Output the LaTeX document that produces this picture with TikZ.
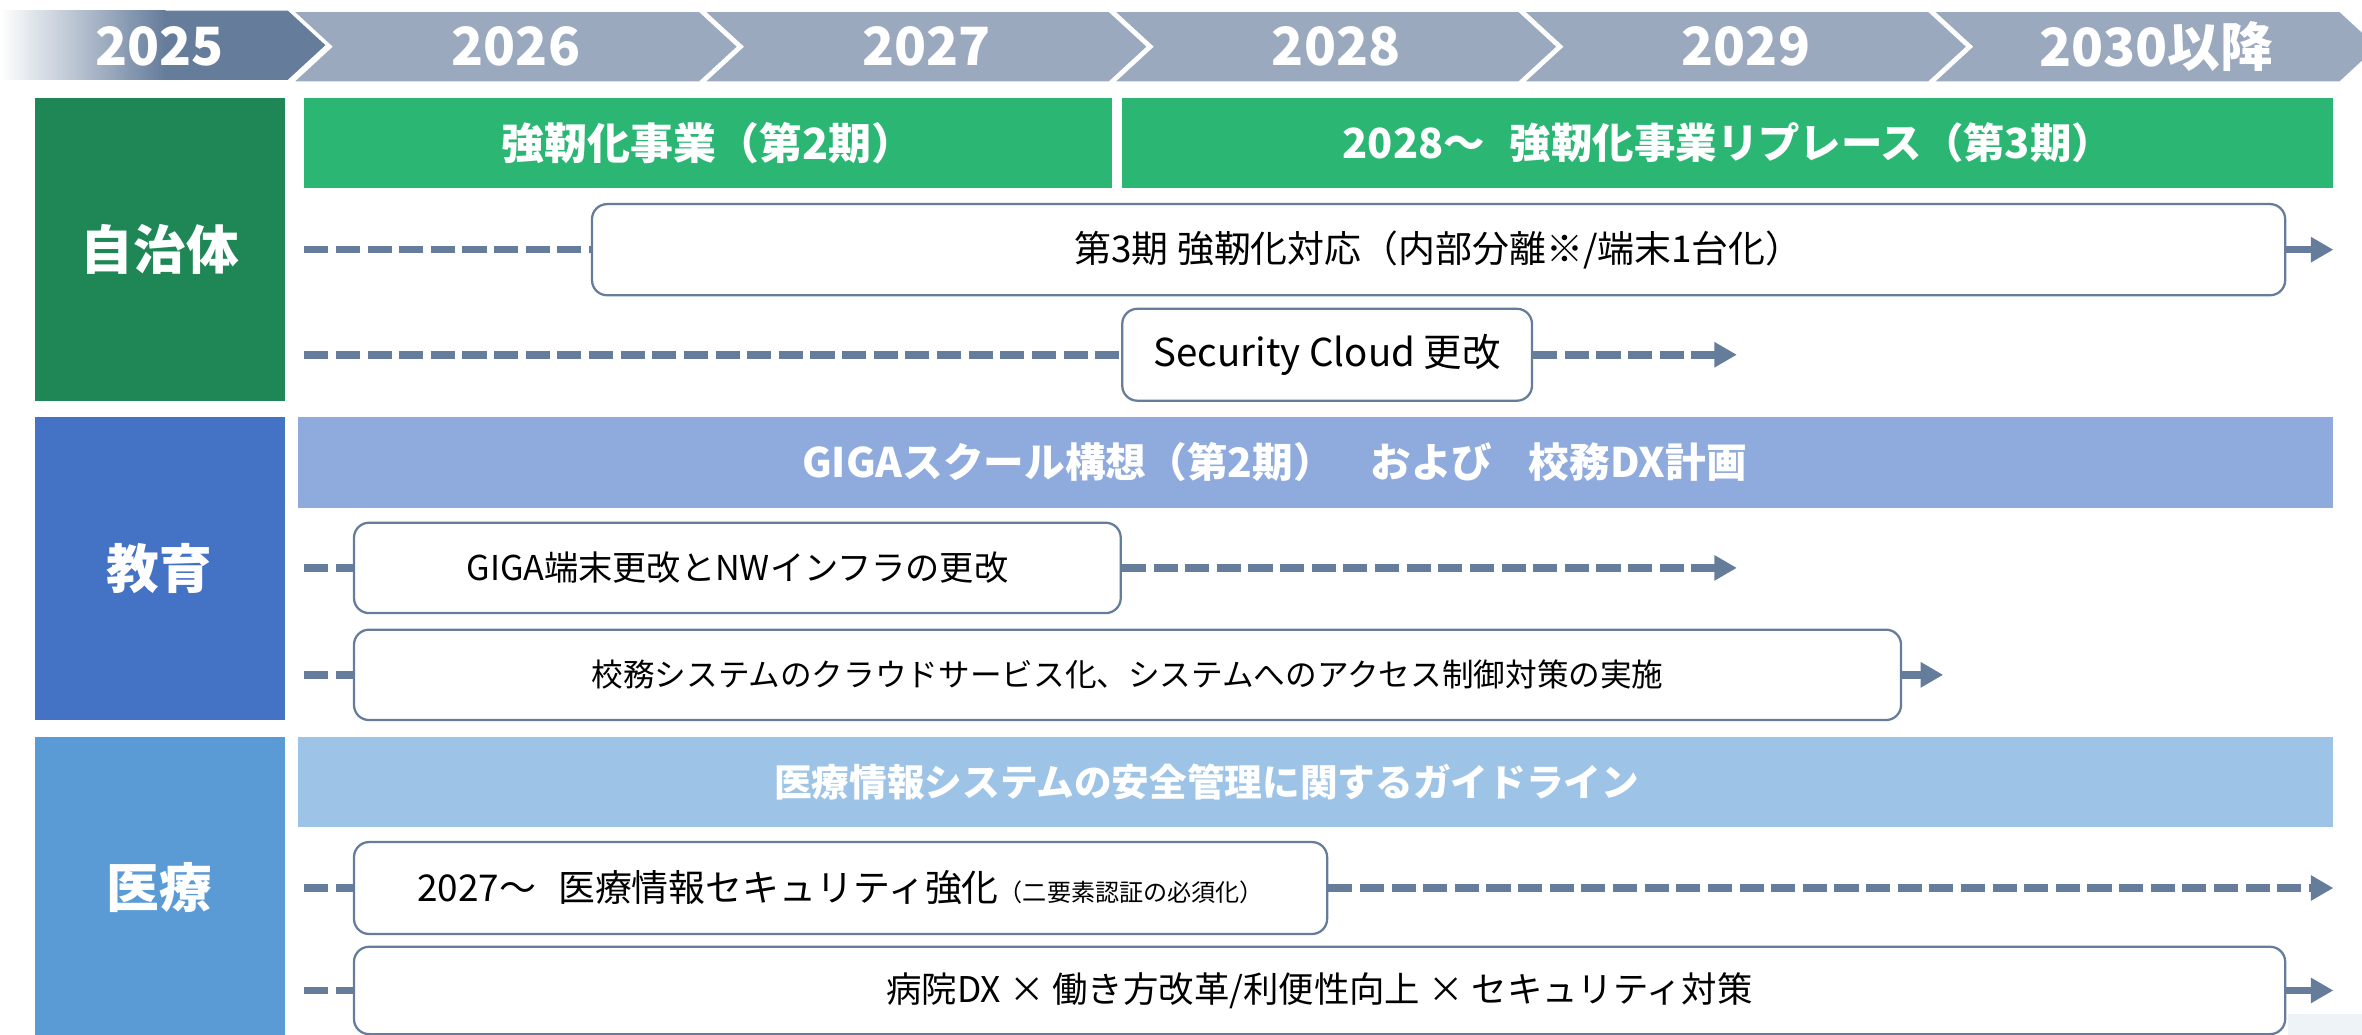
\documentclass[tikz,border=0pt]{standalone}
\usepackage{fontspec}
\setmainfont{Noto Sans CJK JP}
\usetikzlibrary{arrows.meta}
\definecolor{slate}{HTML}{657C9B}
\definecolor{chev}{HTML}{9AA9BE}
\definecolor{dgreen}{HTML}{1E8755}
\definecolor{bgreen}{HTML}{2BB673}
\definecolor{eblue}{HTML}{4472C4}
\definecolor{ebar}{HTML}{8FAADC}
\definecolor{mblue}{HTML}{5B9BD5}
\definecolor{mbar}{HTML}{9DC3E6}
\definecolor{faint}{HTML}{EEF3F8}
\newcommand{\fsz}[1]{\fontsize{#1}{#1}\selectfont}
\tikzset{
  lab/.style={fill=#1, text=white, inner sep=0pt, font=\fsz{35}\bfseries},
  bar/.style={fill=#1, text=white, inner sep=0pt, font=\fsz{27}\bfseries},
  bartext/.style={text=white, inner sep=0pt, font=\fsz{27}\bfseries},
  item/.style={draw=slate, line width=1.5pt, rounded corners=10pt, fill=white, inner sep=0pt, text=black, font=\fsz{23}},
  dashline/.style={draw=slate, line width=5pt, dash pattern=on 16pt off 5pt},
  solidarrow/.style={draw=slate, line width=5pt, -{Triangle[length=15pt,width=16pt]}},
  dasharrow/.style={dashline, -{Triangle[length=15pt,width=16pt]}},
  year/.style={text=white, inner sep=0pt, font=\fsz{35}\bfseries},
}
\begin{document}
\begin{tikzpicture}[x=1pt,y=-1pt]
\useasboundingbox (0,0) rectangle (1568,687);
\clip (0,0) rectangle (1568,687);
% header chevrons
\shade[left color=white, right color=slate] (0,7) rectangle (110,53);
\fill[slate] (109,7) -- (191,7) -- (216,30) -- (191,53) -- (109,53) -- cycle;
\node[year] (y2025) at (106,31) {2025};
\foreach \L/\R/\t/\n in {196/464/2026/y2026, 469/736/2027/y2027, 741/1008/2028/y2028, 1013/1280/2029/y2029, 1285/1553/2030以降/y2030}{
  \fill[chev] (\L,8) -- (\R,8) -- (\R+25,31) -- (\R,54) -- (\L,54) -- (\L+25,31) -- cycle;
  \node[year] (\n) at ({(\L+\R)/2+12.5},31) {\t};
}
% faint corner
\fill[faint] (1519,673) rectangle (1568,687);
% labels
\node[lab=dgreen, minimum width=166pt, minimum height=201pt] (jichitai) at (106,165.5) {自治体};
\node[lab=eblue, minimum width=166pt, minimum height=201pt] (kyoiku) at (106,377.5) {教育};
\node[lab=mblue, minimum width=166pt, minimum height=200pt] (iryo) at (106,589) {医療};
% bars
\node[bar=bgreen, minimum width=536pt, minimum height=60pt, font=\fsz{28.5}\bfseries] (kyojin2) at (470,95) {強靭化事業（第2期）};
\node[bar=bgreen, minimum width=804pt, minimum height=60pt, font=\fsz{27.5}\bfseries] (kyojin3) at (1147,95) {2028～\hspace{0.6em}強靭化事業リプレース（第3期）};
\node[bar=ebar, minimum width=1351pt, minimum height=60pt] (giga) at (873.5,307) {};
\node[bartext] (gigatext) at (846,307) {GIGAスクール構想（第2期）\hspace{0.9em}および\hspace{0.9em}校務DX計画};
\node[bar=mbar, minimum width=1351pt, minimum height=60pt] (guide) at (873.5,519) {};
\node[bartext, font=\fsz{25}\bfseries] (guidetext) at (801,519) {医療情報システムの安全管理に関するガイドライン};
% items
\node[item, minimum width=1124pt, minimum height=60.5pt, font=\fsz{24.5}] (taio) at (955,165.75) {第3期 強靭化対応（内部分離※/端末1台化）};
\node[item, minimum width=272pt, minimum height=61pt, font=\fsz{25.5}] (cloud) at (881,235.5) {Security Cloud 更改};
\node[item, minimum width=509pt, minimum height=60pt, font=\fsz{22.7}] (tanmatsu) at (489.5,377) {GIGA端末更改とNWインフラの更改};
\node[item, minimum width=1027pt, minimum height=60pt, font=\fsz{21}] (komu) at (748.5,448) {校務システムのクラウドサービス化、システムへのアクセス制御対策の実施};
\node[item, minimum width=646pt, minimum height=61pt, font=\fsz{24.5}] (sec) at (558,589.5) {2027～\hspace{0.6em}医療情報セキュリティ強化{\fsz{16}（二要素認証の必須化）}};
\node[item, minimum width=1282pt, minimum height=58pt, font=\fsz{23.5}] (dx) at (876,657.5) {病院DX × 働き方改革/利便性向上 × セキュリティ対策};
% connector ends
\coordinate (s1) at (202,165.75);
\coordinate (e1) at (1549,165.75);
\coordinate (s2) at (202,235.5);
\coordinate (e2) at (1153,235.5);
\coordinate (s3) at (202,377);
\coordinate (e3) at (1153,377);
\coordinate (s4) at (202,448);
\coordinate (e4) at (1290,448);
\coordinate (s5) at (202,589.5);
\coordinate (e5) at (1549,589.5);
\coordinate (s6) at (202,657.5);
\coordinate (e6) at (1549,657.5);
% connectors
\draw[dashline] (s1) -- (taio.west);
\draw[solidarrow] (taio.east) -- (e1);
\draw[dashline] (s2) -- (cloud.west);
\draw[dasharrow] (cloud.east) -- (e2);
\draw[dashline] (s3) -- (tanmatsu.west);
\draw[dasharrow] (tanmatsu.east) -- (e3);
\draw[dashline] (s4) -- (komu.west);
\draw[solidarrow] (komu.east) -- (e4);
\draw[dashline] (s5) -- (sec.west);
\draw[dasharrow] (sec.east) -- (e5);
\draw[dashline] (s6) -- (dx.west);
\draw[solidarrow] (dx.east) -- (e6);
\end{tikzpicture}
\end{document}
